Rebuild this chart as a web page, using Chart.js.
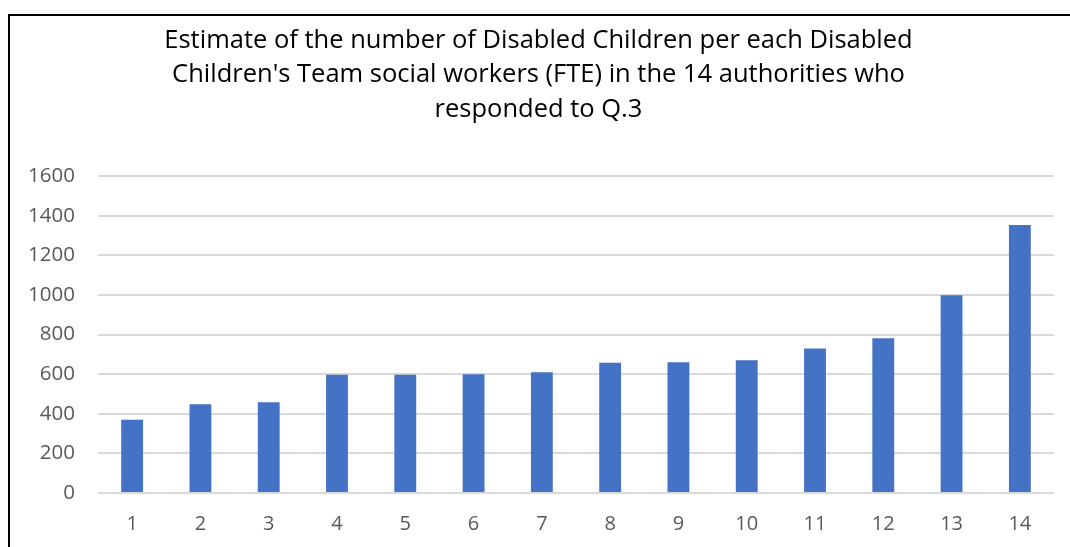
<!DOCTYPE html>
<html>
<head>
<meta charset="utf-8">
<script src="https://cdn.jsdelivr.net/npm/chart.js@4"></script>
<style>
html,body{margin:0;padding:0;background:#fff;overflow:hidden;}
#frame{position:absolute;left:8px;top:14px;width:1100px;height:600px;border-left:2px solid #000;border-top:2px solid #000;box-sizing:border-box;}
#wrap{position:absolute;left:0;top:0;width:1070px;height:547px;}
</style>
</head>
<body>
<div id="frame"></div>
<div id="wrap"><canvas id="c" width="1070" height="547"></canvas></div>
<script>
const categories = ['1','2','3','4','5','6','7','8','9','10','11','12','13','14'];
const values = [370, 448, 458, 597, 597, 599, 610, 658, 660, 670, 730, 781, 998, 1353];
const titleLines = [
  'Estimate of the number of Disabled Children per each Disabled',
  "Children's Team social workers (FTE) in the 14 authorities who",
  'responded to Q.3'
];
const fontFamily = "'Open Sans', 'Liberation Sans', sans-serif";

new Chart(document.getElementById('c'), {
  type: 'bar',
  data: {
    labels: categories,
    datasets: [{
      data: values,
      backgroundColor: '#4472C4',
      borderWidth: 0,
      barPercentage: 0.32,
      categoryPercentage: 1
    }]
  },
  options: {
    responsive: false,
    animation: false,
    layout: { padding: { left: 23, right: 16, top: 0, bottom: 0 } },
    plugins: {
      legend: { display: false },
      tooltip: { enabled: false },
      title: {
        display: true,
        text: titleLines,
        color: '#000',
        font: { family: fontFamily, size: 25.5, weight: 'normal', lineHeight: 1.36 },
        padding: { top: 23, bottom: 49 }
      }
    },
    scales: {
      x: {
        grid: { display: false, drawTicks: false },
        border: { display: false },
        ticks: { color: '#595959', font: { family: fontFamily, size: 20 }, padding: 19 },
        afterFit: (s) => { s.height = 54; }
      },
      y: {
        min: 0, max: 1600,
        ticks: { stepSize: 200, color: '#595959', font: { family: fontFamily, size: 20.5 }, padding: 23,
                 callback: (v) => String(v) },
        grid: { color: '#d9d9d9', lineWidth: 2, drawTicks: false },
        border: { display: false },
        afterFit: (s) => { s.width = 75; }
      }
    }
  }
});
</script>
</body>
</html>
